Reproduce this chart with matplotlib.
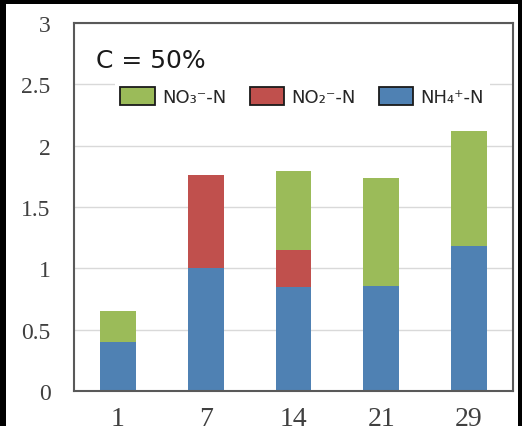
import numpy as np
import matplotlib.pyplot as plt
from matplotlib.patches import Rectangle, Patch

# data
days = ['1', '7', '14', '21', '29']
nh4 = [0.40, 1.00, 0.85, 0.855, 1.18]
no2 = [0.00, 0.76, 0.30, 0.00, 0.00]
no3 = [0.255, 0.00, 0.64, 0.885, 0.94]
y_ticks = [0, 0.5, 1, 1.5, 2, 2.5, 3]
y_labels = ['0', '0.5', '1', '1.5', '2', '2.5', '3']
legend_labels = ['NO₃⁻-N', 'NO₂⁻-N', 'NH₄⁺-N']

c_nh4 = '#4f81b3'
c_no2 = '#c0504d'
c_no3 = '#9bbb59'

fig = plt.figure(figsize=(5.22, 4.27), dpi=100, facecolor='black')
# white page inside the black border
fig.patches.append(Rectangle((6 / 522, 0), 512 / 522, 422 / 427,
                             transform=fig.transFigure, facecolor='white',
                             edgecolor='none', zorder=0))

ax = fig.add_axes([74 / 522, 35 / 427, 439 / 522, 368 / 427])
ax.set_zorder(1)

x = np.arange(len(days))
w = 0.41
bottom2 = np.array(nh4)
bottom3 = bottom2 + np.array(no2)
ax.bar(x, nh4, w, color=c_nh4, zorder=2)
ax.bar(x, no2, w, bottom=bottom2, color=c_no2, zorder=2)
ax.bar(x, no3, w, bottom=bottom3, color=c_no3, zorder=2)

ax.set_xlim(-0.5, len(days) - 0.5)
ax.set_ylim(0, 3)
ax.set_yticks(y_ticks)
ax.set_yticklabels(y_labels)
ax.set_xticks(x)
ax.set_xticklabels(days)
ax.grid(axis='y', color='#d9d9d9', lw=1, zorder=0)
ax.set_axisbelow(True)

for s in ax.spines.values():
    s.set_color('#595959')
    s.set_linewidth(1.5)

ax.tick_params(axis='y', length=0, pad=17, labelsize=17, labelcolor='#404040')
ax.tick_params(axis='x', length=0, pad=11, labelsize=20, labelcolor='#404040')
for lab in ax.get_xticklabels() + ax.get_yticklabels():
    lab.set_fontfamily('Liberation Serif')

ax.text(0.05, 0.88, 'C = 50%', transform=ax.transAxes, fontsize=18,
        fontfamily='DejaVu Sans', color='#1a1a1a', va='baseline', ha='left')

handles = [
    Patch(facecolor=c_no3, edgecolor='#1a1a1a', lw=1.3, label=legend_labels[0]),
    Patch(facecolor=c_no2, edgecolor='#1a1a1a', lw=1.3, label=legend_labels[1]),
    Patch(facecolor=c_nh4, edgecolor='#1a1a1a', lw=1.3, label=legend_labels[2]),
]
leg = ax.legend(handles=handles, ncol=3, loc='center', bbox_to_anchor=(0.52, 0.80),
                frameon=True, fancybox=False, edgecolor='none', facecolor='white',
                framealpha=1, fontsize=13, handlelength=1.9, handleheight=1.2,
                handletextpad=0.4, columnspacing=1.3, borderpad=0.3)
for t in leg.get_texts():
    t.set_color('#262626')
    t.set_fontfamily('DejaVu Sans')

fig.savefig('out.png', dpi=100, facecolor=fig.get_facecolor())
